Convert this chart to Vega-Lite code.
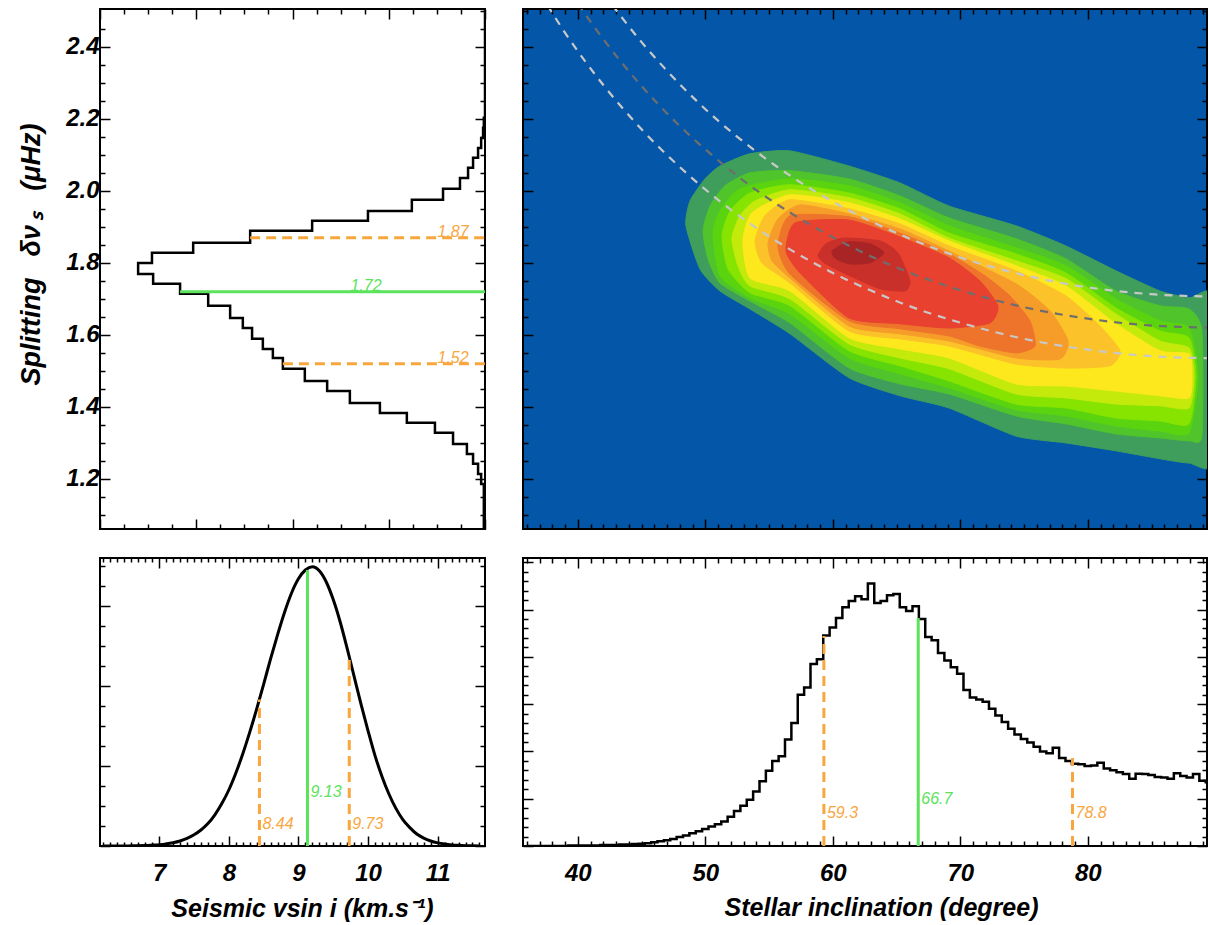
{
  "$schema": "https://vega.github.io/schema/vega-lite/v6.json",
  "padding": {"left": 16, "top": 7, "right": 1, "bottom": 2},
  "background": "white",
  "config": {
    "view": {"stroke": "#000000", "strokeWidth": 2},
    "font": "Liberation Sans",
    "axis": {"domain": false, "grid": false, "zindex": 1, "labelOverlap": false, "labelFont": "Liberation Sans", "labelFontSize": 24, "labelFontWeight": "bold", "labelFontStyle": "italic", "labelColor": "#000000", "tickColor": "#000000", "tickWidth": 1.5, "titleFont": "Liberation Sans", "titleFontSize": 25, "titleFontWeight": "bold", "titleFontStyle": "italic", "titleColor": "#000000"}
  },
  "datasets": {
    "hs": [
      {"s":1.061,"c":0.003},{"s":1.186,"c":0.01},{"s":1.214,"c":0.018},{"s":1.242,"c":0.031},{"s":1.269,"c":0.047},{"s":1.297,"c":0.083},{"s":1.328,"c":0.13},{"s":1.356,"c":0.203},{"s":1.383,"c":0.273},{"s":1.411,"c":0.351},{"s":1.444,"c":0.41},{"s":1.472,"c":0.468},{"s":1.506,"c":0.525},{"s":1.536,"c":0.551},{"s":1.561,"c":0.577},{"s":1.589,"c":0.605},{"s":1.619,"c":0.629},{"s":1.647,"c":0.662},{"s":1.681,"c":0.719},{"s":1.714,"c":0.792},{"s":1.742,"c":0.862},{"s":1.769,"c":0.901},{"s":1.8,"c":0.865},{"s":1.828,"c":0.758},{"s":1.856,"c":0.61},{"s":1.889,"c":0.449},{"s":1.917,"c":0.304},{"s":1.944,"c":0.19},{"s":1.975,"c":0.109},{"s":2.006,"c":0.065},{"s":2.036,"c":0.044},{"s":2.064,"c":0.031},{"s":2.092,"c":0.018},{"s":2.119,"c":0.01},{"s":2.147,"c":0.005},{"s":2.175,"c":0.003},{"s":2.203,"c":0.0},{"s":2.505,"c":0.0}
    ],
    "tl_lines": [
      {"s":1.87,"c0":0.61,"c1":0,"kind":"ci"},{"s":1.72,"c0":0.792,"c1":0,"kind":"med"},{"s":1.52,"c0":0.525,"c1":0,"kind":"ci"}
    ],
    "tl_text": [
      {"s":1.87,"c":0.083,"t":"1.87","kind":"ci"},{"s":1.72,"c":0.309,"t":"1.72","kind":"med"},{"s":1.52,"c":0.083,"t":"1.52","kind":"ci"}
    ],
    "cont": [
      {"lev":"L01","k":1,"i":48.48,"s":1.903},{"lev":"L01","k":2,"i":48.80,"s":1.972},{"lev":"L01","k":3,"i":49.97,"s":2.033},{"lev":"L01","k":4,"i":51.15,"s":2.069},{"lev":"L01","k":5,"i":53.50,"s":2.103},{"lev":"L01","k":6,"i":56.64,"s":2.111},{"lev":"L01","k":7,"i":61.27,"s":2.069},{"lev":"L01","k":8,"i":65.27,"s":2.022},{"lev":"L01","k":9,"i":69.11,"s":1.958},{"lev":"L01","k":10,"i":74.37,"s":1.903},{"lev":"L01","k":11,"i":78.29,"s":1.847},{"lev":"L01","k":12,"i":82.21,"s":1.778},{"lev":"L01","k":13,"i":85.66,"s":1.722},{"lev":"L01","k":14,"i":87.94,"s":1.703},{"lev":"L01","k":15,"i":90.0,"s":1.703},{"lev":"L01","k":16,"i":90.0,"s":1.25},{"lev":"L01","k":17,"i":87.94,"s":1.244},{"lev":"L01","k":18,"i":85.66,"s":1.256},{"lev":"L01","k":19,"i":82.21,"s":1.278},{"lev":"L01","k":20,"i":78.29,"s":1.30},{"lev":"L01","k":21,"i":74.37,"s":1.319},{"lev":"L01","k":22,"i":69.11,"s":1.397},{"lev":"L01","k":23,"i":65.27,"s":1.431},{"lev":"L01","k":24,"i":61.27,"s":1.481},{"lev":"L01","k":25,"i":56.64,"s":1.603},{"lev":"L01","k":26,"i":53.50,"s":1.672},{"lev":"L01","k":27,"i":51.15,"s":1.722},{"lev":"L01","k":28,"i":49.58,"s":1.783},
      {"lev":"L02","k":1,"i":49.82,"s":1.889},{"lev":"L02","k":2,"i":50.37,"s":1.958},{"lev":"L02","k":3,"i":51.54,"s":2.014},{"lev":"L02","k":4,"i":53.50,"s":2.050},{"lev":"L02","k":5,"i":56.64,"s":2.056},{"lev":"L02","k":6,"i":61.27,"s":2.033},{"lev":"L02","k":7,"i":65.27,"s":1.986},{"lev":"L02","k":8,"i":69.11,"s":1.925},{"lev":"L02","k":9,"i":74.37,"s":1.867},{"lev":"L02","k":10,"i":78.29,"s":1.811},{"lev":"L02","k":11,"i":82.21,"s":1.722},{"lev":"L02","k":12,"i":85.66,"s":1.681},{"lev":"L02","k":13,"i":87.94,"s":1.672},{"lev":"L02","k":14,"i":88.95,"s":1.611},{"lev":"L02","k":15,"i":88.95,"s":1.319},{"lev":"L02","k":16,"i":87.94,"s":1.306},{"lev":"L02","k":17,"i":85.66,"s":1.314},{"lev":"L02","k":18,"i":82.21,"s":1.325},{"lev":"L02","k":19,"i":78.29,"s":1.353},{"lev":"L02","k":20,"i":74.37,"s":1.375},{"lev":"L02","k":21,"i":69.11,"s":1.436},{"lev":"L02","k":22,"i":65.27,"s":1.464},{"lev":"L02","k":23,"i":61.27,"s":1.508},{"lev":"L02","k":24,"i":56.64,"s":1.633},{"lev":"L02","k":25,"i":53.50,"s":1.694},{"lev":"L02","k":26,"i":51.15,"s":1.744},{"lev":"L02","k":27,"i":50.21,"s":1.811},
      {"lev":"L03","k":1,"i":50.60,"s":1.883},{"lev":"L03","k":2,"i":51.15,"s":1.944},{"lev":"L03","k":3,"i":52.72,"s":2.006},{"lev":"L03","k":4,"i":56.64,"s":2.033},{"lev":"L03","k":5,"i":61.27,"s":2.014},{"lev":"L03","k":6,"i":65.27,"s":1.967},{"lev":"L03","k":7,"i":69.11,"s":1.903},{"lev":"L03","k":8,"i":74.37,"s":1.842},{"lev":"L03","k":9,"i":78.29,"s":1.792},{"lev":"L03","k":10,"i":82.21,"s":1.700},{"lev":"L03","k":11,"i":85.66,"s":1.639},{"lev":"L03","k":12,"i":87.94,"s":1.619},{"lev":"L03","k":13,"i":88.64,"s":1.486},{"lev":"L03","k":14,"i":87.94,"s":1.328},{"lev":"L03","k":15,"i":85.66,"s":1.333},{"lev":"L03","k":16,"i":82.21,"s":1.347},{"lev":"L03","k":17,"i":78.29,"s":1.375},{"lev":"L03","k":18,"i":74.37,"s":1.392},{"lev":"L03","k":19,"i":69.11,"s":1.453},{"lev":"L03","k":20,"i":65.27,"s":1.492},{"lev":"L03","k":21,"i":61.27,"s":1.536},{"lev":"L03","k":22,"i":56.64,"s":1.658},{"lev":"L03","k":23,"i":53.50,"s":1.703},{"lev":"L03","k":24,"i":51.15,"s":1.764},
      {"lev":"L04","k":1,"i":51.31,"s":1.875},{"lev":"L04","k":2,"i":51.94,"s":1.944},{"lev":"L04","k":3,"i":53.50,"s":1.994},{"lev":"L04","k":4,"i":56.64,"s":2.017},{"lev":"L04","k":5,"i":61.27,"s":1.994},{"lev":"L04","k":6,"i":65.27,"s":1.950},{"lev":"L04","k":7,"i":69.11,"s":1.883},{"lev":"L04","k":8,"i":74.37,"s":1.825},{"lev":"L04","k":9,"i":78.29,"s":1.772},{"lev":"L04","k":10,"i":82.21,"s":1.675},{"lev":"L04","k":11,"i":85.66,"s":1.611},{"lev":"L04","k":12,"i":87.94,"s":1.592},{"lev":"L04","k":13,"i":88.48,"s":1.486},{"lev":"L04","k":14,"i":87.94,"s":1.353},{"lev":"L04","k":15,"i":85.66,"s":1.361},{"lev":"L04","k":16,"i":82.21,"s":1.369},{"lev":"L04","k":17,"i":78.29,"s":1.397},{"lev":"L04","k":18,"i":74.37,"s":1.408},{"lev":"L04","k":19,"i":69.11,"s":1.472},{"lev":"L04","k":20,"i":65.27,"s":1.514},{"lev":"L04","k":21,"i":61.27,"s":1.556},{"lev":"L04","k":22,"i":56.64,"s":1.681},{"lev":"L04","k":23,"i":53.50,"s":1.717},{"lev":"L04","k":24,"i":51.78,"s":1.783},
      {"lev":"L05","k":1,"i":52.09,"s":1.869},{"lev":"L05","k":2,"i":52.72,"s":1.931},{"lev":"L05","k":3,"i":53.90,"s":1.972},{"lev":"L05","k":4,"i":56.64,"s":2.003},{"lev":"L05","k":5,"i":61.27,"s":1.981},{"lev":"L05","k":6,"i":65.27,"s":1.936},{"lev":"L05","k":7,"i":69.11,"s":1.869},{"lev":"L05","k":8,"i":74.37,"s":1.806},{"lev":"L05","k":9,"i":78.29,"s":1.756},{"lev":"L05","k":10,"i":82.21,"s":1.658},{"lev":"L05","k":11,"i":85.66,"s":1.583},{"lev":"L05","k":12,"i":87.94,"s":1.564},{"lev":"L05","k":13,"i":88.33,"s":1.486},{"lev":"L05","k":14,"i":87.94,"s":1.397},{"lev":"L05","k":15,"i":85.66,"s":1.403},{"lev":"L05","k":16,"i":82.21,"s":1.408},{"lev":"L05","k":17,"i":78.29,"s":1.425},{"lev":"L05","k":18,"i":74.37,"s":1.436},{"lev":"L05","k":19,"i":69.11,"s":1.506},{"lev":"L05","k":20,"i":65.27,"s":1.536},{"lev":"L05","k":21,"i":61.27,"s":1.575},{"lev":"L05","k":22,"i":56.64,"s":1.700},{"lev":"L05","k":23,"i":53.50,"s":1.736},{"lev":"L05","k":24,"i":52.56,"s":1.792},
      {"lev":"L06","k":1,"i":52.95,"s":1.861},{"lev":"L06","k":2,"i":53.66,"s":1.939},{"lev":"L06","k":3,"i":56.64,"s":1.989},{"lev":"L06","k":4,"i":61.27,"s":1.967},{"lev":"L06","k":5,"i":65.27,"s":1.922},{"lev":"L06","k":6,"i":69.11,"s":1.861},{"lev":"L06","k":7,"i":74.37,"s":1.792},{"lev":"L06","k":8,"i":78.29,"s":1.736},{"lev":"L06","k":9,"i":82.21,"s":1.631},{"lev":"L06","k":10,"i":85.66,"s":1.556},{"lev":"L06","k":11,"i":87.94,"s":1.547},{"lev":"L06","k":12,"i":88.17,"s":1.486},{"lev":"L06","k":13,"i":87.94,"s":1.425},{"lev":"L06","k":14,"i":85.66,"s":1.431},{"lev":"L06","k":15,"i":82.21,"s":1.444},{"lev":"L06","k":16,"i":78.29,"s":1.458},{"lev":"L06","k":17,"i":74.37,"s":1.464},{"lev":"L06","k":18,"i":69.11,"s":1.536},{"lev":"L06","k":19,"i":65.27,"s":1.561},{"lev":"L06","k":20,"i":61.27,"s":1.592},{"lev":"L06","k":21,"i":56.64,"s":1.722},{"lev":"L06","k":22,"i":53.50,"s":1.758},
      {"lev":"L07","k":1,"i":53.90,"s":1.861},{"lev":"L07","k":2,"i":54.68,"s":1.931},{"lev":"L07","k":3,"i":56.64,"s":1.975},{"lev":"L07","k":4,"i":61.27,"s":1.950},{"lev":"L07","k":5,"i":65.27,"s":1.908},{"lev":"L07","k":6,"i":69.11,"s":1.847},{"lev":"L07","k":7,"i":74.37,"s":1.778},{"lev":"L07","k":8,"i":78.29,"s":1.708},{"lev":"L07","k":9,"i":80.95,"s":1.625},{"lev":"L07","k":10,"i":82.52,"s":1.556},{"lev":"L07","k":11,"i":81.74,"s":1.514},{"lev":"L07","k":12,"i":78.29,"s":1.508},{"lev":"L07","k":13,"i":74.37,"s":1.519},{"lev":"L07","k":14,"i":69.11,"s":1.569},{"lev":"L07","k":15,"i":65.27,"s":1.589},{"lev":"L07","k":16,"i":61.27,"s":1.611},{"lev":"L07","k":17,"i":56.64,"s":1.744},{"lev":"L07","k":18,"i":54.45,"s":1.800},
      {"lev":"L08","k":1,"i":54.92,"s":1.856},{"lev":"L08","k":2,"i":55.70,"s":1.922},{"lev":"L08","k":3,"i":57.43,"s":1.961},{"lev":"L08","k":4,"i":61.27,"s":1.936},{"lev":"L08","k":5,"i":65.27,"s":1.894},{"lev":"L08","k":6,"i":69.11,"s":1.833},{"lev":"L08","k":7,"i":74.37,"s":1.742},{"lev":"L08","k":8,"i":77.03,"s":1.667},{"lev":"L08","k":9,"i":78.45,"s":1.583},{"lev":"L08","k":10,"i":77.82,"s":1.533},{"lev":"L08","k":11,"i":74.37,"s":1.536},{"lev":"L08","k":12,"i":69.11,"s":1.583},{"lev":"L08","k":13,"i":65.27,"s":1.603},{"lev":"L08","k":14,"i":61.27,"s":1.625},{"lev":"L08","k":15,"i":56.64,"s":1.758},{"lev":"L08","k":16,"i":55.23,"s":1.806},
      {"lev":"L09","k":1,"i":55.70,"s":1.847},{"lev":"L09","k":2,"i":56.64,"s":1.931},{"lev":"L09","k":3,"i":61.27,"s":1.928},{"lev":"L09","k":4,"i":65.27,"s":1.883},{"lev":"L09","k":5,"i":69.11,"s":1.825},{"lev":"L09","k":6,"i":71.94,"s":1.764},{"lev":"L09","k":7,"i":73.90,"s":1.708},{"lev":"L09","k":8,"i":75.46,"s":1.639},{"lev":"L09","k":9,"i":75.86,"s":1.569},{"lev":"L09","k":10,"i":74.37,"s":1.550},{"lev":"L09","k":11,"i":71.54,"s":1.569},{"lev":"L09","k":12,"i":69.11,"s":1.597},{"lev":"L09","k":13,"i":65.27,"s":1.617},{"lev":"L09","k":14,"i":61.27,"s":1.639},{"lev":"L09","k":15,"i":56.64,"s":1.769},
      {"lev":"L10","k":1,"i":56.33,"s":1.833},{"lev":"L10","k":2,"i":57.03,"s":1.911},{"lev":"L10","k":3,"i":61.27,"s":1.919},{"lev":"L10","k":4,"i":65.27,"s":1.872},{"lev":"L10","k":5,"i":69.11,"s":1.814},{"lev":"L10","k":6,"i":71.54,"s":1.750},{"lev":"L10","k":7,"i":72.95,"s":1.681},{"lev":"L10","k":8,"i":72.33,"s":1.633},{"lev":"L10","k":9,"i":69.11,"s":1.619},{"lev":"L10","k":10,"i":65.27,"s":1.631},{"lev":"L10","k":11,"i":61.27,"s":1.647},{"lev":"L10","k":12,"i":57.43,"s":1.772},
      {"lev":"L11","k":1,"i":58.84,"s":1.819},{"lev":"L11","k":2,"i":59.46,"s":1.853},{"lev":"L11","k":3,"i":60.88,"s":1.869},{"lev":"L11","k":4,"i":63.70,"s":1.861},{"lev":"L11","k":5,"i":65.11,"s":1.828},{"lev":"L11","k":6,"i":66.05,"s":1.750},{"lev":"L11","k":7,"i":65.66,"s":1.722},{"lev":"L11","k":8,"i":63.70,"s":1.728},{"lev":"L11","k":9,"i":61.35,"s":1.764},{"lev":"L11","k":10,"i":59.46,"s":1.797},
      {"lev":"L12","k":1,"i":59.94,"s":1.833},{"lev":"L12","k":2,"i":61.19,"s":1.858},{"lev":"L12","k":3,"i":62.92,"s":1.853},{"lev":"L12","k":4,"i":64.01,"s":1.828},{"lev":"L12","k":5,"i":62.92,"s":1.800},{"lev":"L12","k":6,"i":61.35,"s":1.797},{"lev":"L12","k":7,"i":60.25,"s":1.811}
    ],
    "curves_light": [
      {"curve":"up","i":42,"s":2.549},{"curve":"up","i":45,"s":2.413},{"curve":"up","i":48,"s":2.296},{"curve":"up","i":51,"s":2.195},{"curve":"up","i":54,"s":2.109},{"curve":"up","i":57,"s":2.034},{"curve":"up","i":60,"s":1.970},{"curve":"up","i":63,"s":1.915},{"curve":"up","i":66,"s":1.868},{"curve":"up","i":70,"s":1.815},{"curve":"up","i":75,"s":1.766},{"curve":"up","i":80,"s":1.732},{"curve":"up","i":85,"s":1.713},{"curve":"up","i":90,"s":1.706},
      {"curve":"low","i":37,"s":2.551},{"curve":"low","i":39,"s":2.439},{"curve":"low","i":42,"s":2.294},{"curve":"low","i":45,"s":2.171},{"curve":"low","i":48,"s":2.066},{"curve":"low","i":51,"s":1.975},{"curve":"low","i":54,"s":1.897},{"curve":"low","i":57,"s":1.830},{"curve":"low","i":60,"s":1.772},{"curve":"low","i":63,"s":1.723},{"curve":"low","i":66,"s":1.680},{"curve":"low","i":70,"s":1.634},{"curve":"low","i":75,"s":1.589},{"curve":"low","i":80,"s":1.559},{"curve":"low","i":85,"s":1.541},{"curve":"low","i":90,"s":1.535}
    ],
    "curve_dark": [
      {"i":40,"s":2.520},{"i":42,"s":2.421},{"i":45,"s":2.291},{"i":48,"s":2.180},{"i":51,"s":2.085},{"i":54,"s":2.002},{"i":57,"s":1.932},{"i":60,"s":1.871},{"i":63,"s":1.818},{"i":66,"s":1.773},{"i":70,"s":1.724},{"i":75,"s":1.677},{"i":80,"s":1.645},{"i":85,"s":1.626},{"i":90,"s":1.620}
    ],
    "hv": [
      {"v":6.2,"c":0},{"v":6.4,"c":0},{"v":6.6,"c":0.002},{"v":6.8,"c":0.005},{"v":6.9,"c":0.01},{"v":7.0,"c":0.016},{"v":7.1,"c":0.026},{"v":7.2,"c":0.041},{"v":7.3,"c":0.063},{"v":7.4,"c":0.095},{"v":7.5,"c":0.14},{"v":7.6,"c":0.20},{"v":7.7,"c":0.28},{"v":7.8,"c":0.39},{"v":7.9,"c":0.53},{"v":8.0,"c":0.70},{"v":8.1,"c":0.91},{"v":8.2,"c":1.15},{"v":8.3,"c":1.42},{"v":8.4,"c":1.71},{"v":8.5,"c":2.02},{"v":8.6,"c":2.34},{"v":8.7,"c":2.64},{"v":8.8,"c":2.92},{"v":8.9,"c":3.16},{"v":9.0,"c":3.34},{"v":9.1,"c":3.45},{"v":9.2,"c":3.49},{"v":9.3,"c":3.44},{"v":9.4,"c":3.30},{"v":9.5,"c":3.08},{"v":9.6,"c":2.80},{"v":9.7,"c":2.47},{"v":9.8,"c":2.12},{"v":9.9,"c":1.77},{"v":10.0,"c":1.44},{"v":10.1,"c":1.13},{"v":10.2,"c":0.87},{"v":10.3,"c":0.65},{"v":10.4,"c":0.47},{"v":10.5,"c":0.33},{"v":10.6,"c":0.23},{"v":10.7,"c":0.15},{"v":10.8,"c":0.099},{"v":10.9,"c":0.063},{"v":11.0,"c":0.039},{"v":11.1,"c":0.024},{"v":11.2,"c":0.014},{"v":11.3,"c":0.008},{"v":11.4,"c":0.004},{"v":11.5,"c":0.002},{"v":11.6,"c":0}
    ],
    "bl_lines": [
      {"v":8.44,"c0":0,"c1":1.83,"kind":"ci"},{"v":9.13,"c0":0,"c1":3.45,"kind":"med"},{"v":9.73,"c0":0,"c1":2.37,"kind":"ci"}
    ],
    "bl_text": [
      {"v":8.44,"c":0.275,"t":"8.44","kind":"ci"},{"v":9.13,"c":0.675,"t":"9.13","kind":"med"},{"v":9.73,"c":0.275,"t":"9.73","kind":"ci"}
    ],
    "hi": [
      {"i":36,"c":0},{"i":36.5,"c":0},{"i":37,"c":0},{"i":37.5,"c":0},{"i":38,"c":0},{"i":38.5,"c":0},{"i":39,"c":0},{"i":39.5,"c":0.01},{"i":40,"c":0.01},{"i":40.5,"c":0.01},{"i":41,"c":0.01},{"i":41.5,"c":0.01},{"i":42,"c":0.02},{"i":42.5,"c":0.02},{"i":43,"c":0.02},{"i":43.5,"c":0.03},{"i":44,"c":0.03},{"i":44.5,"c":0.04},{"i":45,"c":0.05},{"i":45.5,"c":0.06},{"i":46,"c":0.08},{"i":46.5,"c":0.10},{"i":47,"c":0.12},{"i":47.5,"c":0.15},{"i":48,"c":0.19},{"i":48.5,"c":0.22},{"i":49,"c":0.27},{"i":49.5,"c":0.31},{"i":50,"c":0.36},{"i":50.5,"c":0.41},{"i":51,"c":0.46},{"i":51.5,"c":0.52},{"i":52,"c":0.62},{"i":52.5,"c":0.74},{"i":53,"c":0.85},{"i":53.5,"c":0.98},{"i":54,"c":1.15},{"i":54.5,"c":1.37},{"i":55,"c":1.59},{"i":55.5,"c":1.80},{"i":56,"c":1.90},{"i":56.5,"c":2.25},{"i":57,"c":2.60},{"i":57.5,"c":3.20},{"i":58,"c":3.35},{"i":58.5,"c":3.85},{"i":59,"c":3.95},{"i":59.5,"c":4.45},{"i":60,"c":4.62},{"i":60.5,"c":4.82},{"i":61,"c":5.05},{"i":61.5,"c":5.18},{"i":62,"c":5.28},{"i":62.5,"c":5.22},{"i":63,"c":5.55},{"i":63.5,"c":5.14},{"i":64,"c":5.18},{"i":64.5,"c":5.30},{"i":65,"c":5.33},{"i":65.5,"c":5.05},{"i":66,"c":4.97},{"i":66.5,"c":5.07},{"i":67,"c":4.80},{"i":67.5,"c":4.42},{"i":68,"c":4.35},{"i":68.5,"c":4.08},{"i":69,"c":3.92},{"i":69.5,"c":3.78},{"i":70,"c":3.64},{"i":70.5,"c":3.30},{"i":71,"c":3.14},{"i":71.5,"c":3.10},{"i":72,"c":3.05},{"i":72.5,"c":2.90},{"i":73,"c":2.76},{"i":73.5,"c":2.62},{"i":74,"c":2.48},{"i":74.5,"c":2.36},{"i":75,"c":2.26},{"i":75.5,"c":2.19},{"i":76,"c":2.10},{"i":76.5,"c":2.00},{"i":77,"c":1.96},{"i":77.5,"c":2.08},{"i":78,"c":1.86},{"i":78.5,"c":1.80},{"i":79,"c":1.74},{"i":79.5,"c":1.73},{"i":80,"c":1.69},{"i":80.5,"c":1.70},{"i":81,"c":1.76},{"i":81.5,"c":1.64},{"i":82,"c":1.60},{"i":82.5,"c":1.56},{"i":83,"c":1.52},{"i":83.5,"c":1.42},{"i":84,"c":1.53},{"i":84.5,"c":1.52},{"i":85,"c":1.50},{"i":85.5,"c":1.46},{"i":86,"c":1.45},{"i":86.5,"c":1.42},{"i":87,"c":1.54},{"i":87.5,"c":1.48},{"i":88,"c":1.45},{"i":88.5,"c":1.52},{"i":89,"c":1.38},{"i":89.5,"c":1.35}
    ],
    "br_lines": [
      {"i":59.3,"c0":0,"c1":4.44,"kind":"ci"},{"i":66.7,"c0":0,"c1":4.82,"kind":"med"},{"i":78.8,"c0":0,"c1":1.86,"kind":"ci"}
    ],
    "br_text": [
      {"i":59.3,"c":0.70,"t":"59.3","kind":"ci"},{"i":66.7,"c":0.99,"t":"66.7","kind":"med"},{"i":78.8,"c":0.70,"t":"78.8","kind":"ci"}
    ]
  },
  "bounds": "flush",
  "columns": 2,
  "spacing": {"row": 29, "column": 38},
  "concat": [
    {
      "width": 385, "height": 520,
      "resolve": {"axis": {"x": "independent", "y": "independent"}},
      "layer": [
        {
          "data": {"name": "hs"},
          "mark": {"type": "line", "interpolate": "step-before", "color": "#000000", "strokeWidth": 2.5, "clip": true},
          "encoding": {
            "x": {"field": "c", "type": "quantitative", "scale": {"domain": [0, 1], "reverse": true},
                  "axis": {"orient": "bottom", "values": [0,0.0625,0.125,0.1875,0.25,0.3125,0.375,0.4375,0.5,0.5625,0.625,0.6875,0.75,0.8125,0.875,0.9375,1], "tickSize": {"expr": "abs(datum.value*4-round(datum.value*4))<0.01 ? -10 : -5"}, "labels": false, "title": null}},
            "y": {"field": "s", "type": "quantitative", "scale": {"domain": [1.061, 2.505]},
                  "axis": {"orient": "left", "values": [1.1,1.15,1.2,1.25,1.3,1.35,1.4,1.45,1.5,1.55,1.6,1.65,1.7,1.75,1.8,1.85,1.9,1.95,2.0,2.05,2.1,2.15,2.2,2.25,2.3,2.35,2.4,2.45], "tickSize": {"expr": "abs(datum.value*5-round(datum.value*5))<0.01 ? -10 : -5"}, "labelExpr": "abs(datum.value*5-round(datum.value*5))<0.01 ? format(datum.value,'.1f') : ''", "labelPadding": 11, "title": "Splitting\u2002 δν\u2009ₛ\u2002 (μHz)", "titleFontSize": 27, "titlePadding": 20, "titleY": 245}},
            "order": {"field": "s", "type": "quantitative"}
          }
        },
        {
          "data": {"name": "tl_lines"},
          "mark": {"type": "rule", "strokeWidth": 3},
          "encoding": {
            "x": {"field": "c0", "type": "quantitative", "scale": {"domain": [0, 1], "reverse": true},
                  "axis": {"orient": "top", "values": [0,0.0625,0.125,0.1875,0.25,0.3125,0.375,0.4375,0.5,0.5625,0.625,0.6875,0.75,0.8125,0.875,0.9375,1], "tickSize": {"expr": "abs(datum.value*4-round(datum.value*4))<0.01 ? -10 : -5"}, "labels": false, "title": null}},
            "x2": {"field": "c1"},
            "y": {"field": "s", "type": "quantitative", "scale": {"domain": [1.061, 2.505]},
                  "axis": {"orient": "right", "values": [1.1,1.15,1.2,1.25,1.3,1.35,1.4,1.45,1.5,1.55,1.6,1.65,1.7,1.75,1.8,1.85,1.9,1.95,2.0,2.05,2.1,2.15,2.2,2.25,2.3,2.35,2.4,2.45,2.5], "tickSize": {"expr": "abs(datum.value*5-round(datum.value*5))<0.01 ? -10 : -5"}, "labels": false, "title": null}},
            "color": {"field": "kind", "type": "nominal", "scale": {"domain": ["ci", "med"], "range": ["#f9a63f", "#5be35b"]}, "legend": null},
            "strokeDash": {"field": "kind", "type": "nominal", "scale": {"domain": ["ci", "med"], "range": [[10, 6], [1, 0]]}, "legend": null}
          }
        },
        {
          "data": {"name": "tl_text"},
          "mark": {"type": "text", "font": "Liberation Sans", "fontStyle": "italic", "fontSize": 16, "align": "center", "baseline": "alphabetic", "dy": -1},
          "encoding": {
            "x": {"field": "c", "type": "quantitative", "scale": {"domain": [0, 1], "reverse": true}, "axis": null},
            "y": {"field": "s", "type": "quantitative", "scale": {"domain": [1.061, 2.505]}, "axis": null},
            "text": {"field": "t"},
            "color": {"field": "kind", "type": "nominal", "scale": {"domain": ["ci", "med"], "range": ["#f9a63f", "#5be35b"]}, "legend": null}
          }
        }
      ]
    },
    {
      "width": 684, "height": 520,
      "view": {"fill": "#0457a8", "stroke": "#000000", "strokeWidth": 2},
      "resolve": {"axis": {"x": "independent", "y": "independent"}},
      "layer": [
        {
          "data": {"name": "cont"},
          "mark": {"type": "line", "interpolate": "cardinal-closed", "tension": 0.4, "strokeWidth": 1, "clip": true},
          "encoding": {
            "x": {"field": "i", "type": "quantitative", "scale": {"domain": [35.7, 89.35]},
                  "axis": {"orient": "bottom", "values": [36,37,38,39,40,41,42,43,44,45,46,47,48,49,50,51,52,53,54,55,56,57,58,59,60,61,62,63,64,65,66,67,68,69,70,71,72,73,74,75,76,77,78,79,80,81,82,83,84,85,86,87,88,89], "tickSize": {"expr": "datum.value%10==0 ? -10 : -5"}, "labels": false, "title": null}},
            "y": {"field": "s", "type": "quantitative", "scale": {"domain": [1.061, 2.505]},
                  "axis": {"orient": "left", "values": [1.1,1.15,1.2,1.25,1.3,1.35,1.4,1.45,1.5,1.55,1.6,1.65,1.7,1.75,1.8,1.85,1.9,1.95,2.0,2.05,2.1,2.15,2.2,2.25,2.3,2.35,2.4,2.45,2.5], "tickSize": {"expr": "abs(datum.value*5-round(datum.value*5))<0.01 ? -10 : -5"}, "labels": false, "title": null}},
            "order": {"field": "k", "type": "quantitative"},
            "fill": {"field": "lev", "type": "nominal", "scale": {"domain": ["L01","L02","L03","L04","L05","L06","L07","L08","L09","L10","L11","L12"], "range": ["#3f9e5b","#4fc42b","#5bd410","#86e400","#c4ea0c","#fde81e","#fcc22a","#f69c29","#ee742b","#e9412f","#c9302a","#a92424"]}, "legend": null},
            "stroke": {"field": "lev", "type": "nominal", "scale": {"domain": ["L01","L02","L03","L04","L05","L06","L07","L08","L09","L10","L11","L12"], "range": ["#3f9e5b","#4fc42b","#5bd410","#86e400","#c4ea0c","#fde81e","#fcc22a","#f69c29","#ee742b","#e9412f","#c9302a","#a92424"]}, "legend": null}
          }
        },
        {
          "data": {"name": "curves_light"},
          "mark": {"type": "line", "interpolate": "monotone", "color": "#c8c8c8", "strokeWidth": 2.2, "strokeDash": [8, 7], "clip": true},
          "encoding": {
            "x": {"field": "i", "type": "quantitative", "scale": {"domain": [35.7, 89.35]},
                  "axis": {"orient": "top", "values": [36,37,38,39,40,41,42,43,44,45,46,47,48,49,50,51,52,53,54,55,56,57,58,59,60,61,62,63,64,65,66,67,68,69,70,71,72,73,74,75,76,77,78,79,80,81,82,83,84,85,86,87,88,89], "tickSize": {"expr": "datum.value%10==0 ? -10 : -5"}, "labels": false, "title": null}},
            "y": {"field": "s", "type": "quantitative", "scale": {"domain": [1.061, 2.505]},
                  "axis": {"orient": "right", "values": [1.1,1.15,1.2,1.25,1.3,1.35,1.4,1.45,1.5,1.55,1.6,1.65,1.7,1.75,1.8,1.85,1.9,1.95,2.0,2.05,2.1,2.15,2.2,2.25,2.3,2.35,2.4,2.45,2.5], "tickSize": {"expr": "abs(datum.value*5-round(datum.value*5))<0.01 ? -10 : -5"}, "labels": false, "title": null}},
            "detail": {"field": "curve", "type": "nominal"}
          }
        },
        {
          "data": {"name": "curve_dark"},
          "mark": {"type": "line", "interpolate": "monotone", "color": "#6e6e6e", "strokeWidth": 2.2, "strokeDash": [8, 7], "clip": true},
          "encoding": {
            "x": {"field": "i", "type": "quantitative", "scale": {"domain": [35.7, 89.35]}, "axis": null},
            "y": {"field": "s", "type": "quantitative", "scale": {"domain": [1.061, 2.505]}, "axis": null}
          }
        }
      ]
    },
    {
      "width": 385, "height": 288,
      "resolve": {"axis": {"x": "independent", "y": "independent"}},
      "layer": [
        {
          "data": {"name": "hv"},
          "mark": {"type": "line", "interpolate": "monotone", "color": "#000000", "strokeWidth": 3, "clip": true},
          "encoding": {
            "x": {"field": "v", "type": "quantitative", "scale": {"domain": [6.15, 11.68]},
                  "axis": {"orient": "bottom", "values": [6.2,6.3,6.4,6.5,6.6,6.7,6.8,6.9,7,7.1,7.2,7.3,7.4,7.5,7.6,7.7,7.8,7.9,8,8.1,8.2,8.3,8.4,8.5,8.6,8.7,8.8,8.9,9,9.1,9.2,9.3,9.4,9.5,9.6,9.7,9.8,9.9,10,10.1,10.2,10.3,10.4,10.5,10.6,10.7,10.8,10.9,11,11.1,11.2,11.3,11.4,11.5,11.6], "tickSize": {"expr": "abs(datum.value-round(datum.value))<0.01 ? -10 : -4"}, "labelExpr": "abs(datum.value-round(datum.value))<0.01 ? format(datum.value,'d') : ''", "labelPadding": 25, "title": "Seismic vsin i (km.s⁻¹)", "titlePadding": 5, "titleX": 202}},
            "y": {"field": "c", "type": "quantitative", "scale": {"domain": [0, 3.6]},
                  "axis": {"orient": "left", "values": [0,0.25,0.5,0.75,1,1.25,1.5,1.75,2,2.25,2.5,2.75,3,3.25,3.5], "tickSize": {"expr": "abs(datum.value-round(datum.value))<0.01 ? -10 : -5"}, "labels": false, "title": null}}
          }
        },
        {
          "data": {"name": "bl_lines"},
          "mark": {"type": "rule", "strokeWidth": 3},
          "encoding": {
            "x": {"field": "v", "type": "quantitative", "scale": {"domain": [6.15, 11.68]},
                  "axis": {"orient": "top", "values": [6.2,6.3,6.4,6.5,6.6,6.7,6.8,6.9,7,7.1,7.2,7.3,7.4,7.5,7.6,7.7,7.8,7.9,8,8.1,8.2,8.3,8.4,8.5,8.6,8.7,8.8,8.9,9,9.1,9.2,9.3,9.4,9.5,9.6,9.7,9.8,9.9,10,10.1,10.2,10.3,10.4,10.5,10.6,10.7,10.8,10.9,11,11.1,11.2,11.3,11.4,11.5,11.6], "tickSize": {"expr": "abs(datum.value-round(datum.value))<0.01 ? -10 : -4"}, "labels": false, "title": null}},
            "y": {"field": "c0", "type": "quantitative", "scale": {"domain": [0, 3.6]},
                  "axis": {"orient": "right", "values": [0,0.25,0.5,0.75,1,1.25,1.5,1.75,2,2.25,2.5,2.75,3,3.25,3.5], "tickSize": {"expr": "abs(datum.value-round(datum.value))<0.01 ? -10 : -5"}, "labels": false, "title": null}},
            "y2": {"field": "c1"},
            "color": {"field": "kind", "type": "nominal", "scale": {"domain": ["ci", "med"], "range": ["#f9a63f", "#5be35b"]}, "legend": null},
            "strokeDash": {"field": "kind", "type": "nominal", "scale": {"domain": ["ci", "med"], "range": [[10, 6], [1, 0]]}, "legend": null}
          }
        },
        {
          "data": {"name": "bl_text"},
          "mark": {"type": "text", "font": "Liberation Sans", "fontStyle": "italic", "fontSize": 16, "align": "left", "baseline": "middle", "dx": 3},
          "encoding": {
            "x": {"field": "v", "type": "quantitative", "scale": {"domain": [6.15, 11.68]}, "axis": null},
            "y": {"field": "c", "type": "quantitative", "scale": {"domain": [0, 3.6]}, "axis": null},
            "text": {"field": "t"},
            "color": {"field": "kind", "type": "nominal", "scale": {"domain": ["ci", "med"], "range": ["#f9a63f", "#5be35b"]}, "legend": null}
          }
        }
      ]
    },
    {
      "width": 684, "height": 288,
      "resolve": {"axis": {"x": "independent", "y": "independent"}},
      "layer": [
        {
          "data": {"name": "hi"},
          "mark": {"type": "line", "interpolate": "step", "color": "#000000", "strokeWidth": 2.5, "clip": true},
          "encoding": {
            "x": {"field": "i", "type": "quantitative", "scale": {"domain": [35.7, 89.35]},
                  "axis": {"orient": "bottom", "values": [36,37,38,39,40,41,42,43,44,45,46,47,48,49,50,51,52,53,54,55,56,57,58,59,60,61,62,63,64,65,66,67,68,69,70,71,72,73,74,75,76,77,78,79,80,81,82,83,84,85,86,87,88,89], "tickSize": {"expr": "datum.value%10==0 ? -10 : -5"}, "labelExpr": "datum.value%10==0 ? format(datum.value,'d') : ''", "labelPadding": 25, "title": "Stellar inclination (degree)", "titlePadding": 5, "titleX": 358}},
            "y": {"field": "c", "type": "quantitative", "scale": {"domain": [0, 6.09]},
                  "axis": {"orient": "left", "values": [0,0.2,0.4,0.6,0.8,1,1.2,1.4,1.6,1.8,2,2.2,2.4,2.6,2.8,3,3.2,3.4,3.6,3.8,4,4.2,4.4,4.6,4.8,5,5.2,5.4,5.6,5.8,6], "tickSize": {"expr": "abs(datum.value-round(datum.value))<0.01 ? -10 : -5"}, "labels": false, "title": null}}
          }
        },
        {
          "data": {"name": "br_lines"},
          "mark": {"type": "rule", "strokeWidth": 3},
          "encoding": {
            "x": {"field": "i", "type": "quantitative", "scale": {"domain": [35.7, 89.35]},
                  "axis": {"orient": "top", "values": [36,37,38,39,40,41,42,43,44,45,46,47,48,49,50,51,52,53,54,55,56,57,58,59,60,61,62,63,64,65,66,67,68,69,70,71,72,73,74,75,76,77,78,79,80,81,82,83,84,85,86,87,88,89], "tickSize": {"expr": "datum.value%10==0 ? -10 : -5"}, "labels": false, "title": null}},
            "y": {"field": "c0", "type": "quantitative", "scale": {"domain": [0, 6.09]},
                  "axis": {"orient": "right", "values": [0,0.2,0.4,0.6,0.8,1,1.2,1.4,1.6,1.8,2,2.2,2.4,2.6,2.8,3,3.2,3.4,3.6,3.8,4,4.2,4.4,4.6,4.8,5,5.2,5.4,5.6,5.8,6], "tickSize": {"expr": "abs(datum.value-round(datum.value))<0.01 ? -10 : -5"}, "labels": false, "title": null}},
            "y2": {"field": "c1"},
            "color": {"field": "kind", "type": "nominal", "scale": {"domain": ["ci", "med"], "range": ["#f9a63f", "#5be35b"]}, "legend": null},
            "strokeDash": {"field": "kind", "type": "nominal", "scale": {"domain": ["ci", "med"], "range": [[10, 6], [1, 0]]}, "legend": null}
          }
        },
        {
          "data": {"name": "br_text"},
          "mark": {"type": "text", "font": "Liberation Sans", "fontStyle": "italic", "fontSize": 16, "align": "left", "baseline": "middle", "dx": 3},
          "encoding": {
            "x": {"field": "i", "type": "quantitative", "scale": {"domain": [35.7, 89.35]}, "axis": null},
            "y": {"field": "c", "type": "quantitative", "scale": {"domain": [0, 6.09]}, "axis": null},
            "text": {"field": "t"},
            "color": {"field": "kind", "type": "nominal", "scale": {"domain": ["ci", "med"], "range": ["#f9a63f", "#5be35b"]}, "legend": null}
          }
        }
      ]
    }
  ]
}
